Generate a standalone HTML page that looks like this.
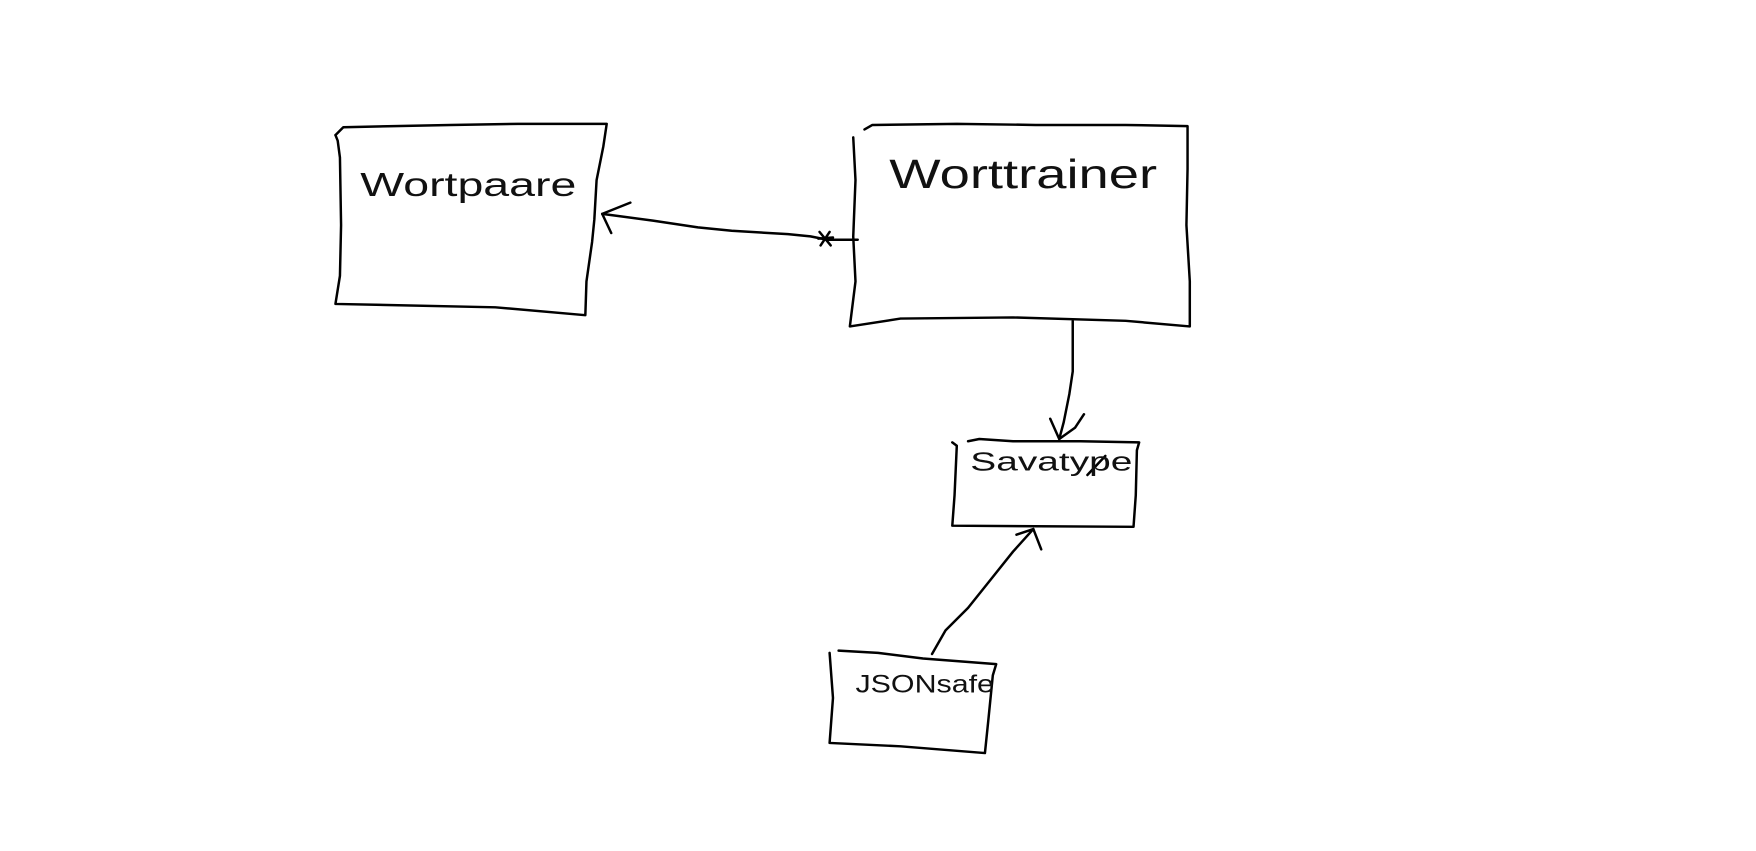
<!DOCTYPE html>
<html><head><meta charset="utf-8"><style>
html,body{margin:0;padding:0;background:#fff;}
svg{display:block;}
text{font-family:"Liberation Sans",sans-serif;fill:#111;}
</style></head><body>
<svg width="1756" height="851" viewBox="0 0 1560 756" xmlns="http://www.w3.org/2000/svg">
<g fill="none" stroke="#000" stroke-width="2.2" stroke-linecap="round" stroke-linejoin="round">
<path d="M298,120 L300,125 L302,140 L303,200 L302,245 L298,270 L440,273 L520,280 L521,250 L526,215 L528,195 L530,160 L536,130 L539,110 L460,110 L400,111 L350,112 L305,113 L298,120"/>
<path d="M758,122 L760,160 L758,210 L760,250 L755,290 L800,283 L900,282 L1000,285 L1057,290 L1057,250 L1054,200 L1055,150 L1055,112 L1000,111 L920,111 L850,110 L775,111 L768,115"/>
<path d="M846,393 L850,396 L848,440 L846,467 L1007,468 L1009,440 L1010,400 L1012,393 L960,392 L900,392 L870,390 L860,392"/>
<path d="M737,580 L740,620 L737,660 L800,663 L875,669 L878,640 L882,600 L885,590 L820,585 L780,580 L745,578"/>
<path d="M762,213 L735,213 L720,210 L700,208 L650,205 L620,202 L580,196 L535,190"/>
<path d="M560,180 L535,190 L543,207"/>
<path d="M728,206 L738,218 M737,206 L729,218 M727,212 L740,211"/>
<path d="M953,285 L953,330 L950,350 L945,375 L941,390"/>
<path d="M933,372 L941,390 L955,380 L963,368"/>
<path d="M828,581 L840,560 L860,540 L880,515 L900,490 L918,470"/>
<path d="M903,475 L918,470 L925,488"/>
<path d="M966,422 L982,405"/>
</g>
<text x="320" y="174" font-size="30" textLength="192" lengthAdjust="spacingAndGlyphs">Wortpaare</text>
<text x="790" y="167" font-size="36" textLength="238" lengthAdjust="spacingAndGlyphs">Worttrainer</text>
<text x="862" y="418" font-size="23" textLength="144" lengthAdjust="spacingAndGlyphs">Savatype</text>
<text x="760" y="615" font-size="22" textLength="123" lengthAdjust="spacingAndGlyphs">JSONsafe</text>
</svg>
</body></html>
